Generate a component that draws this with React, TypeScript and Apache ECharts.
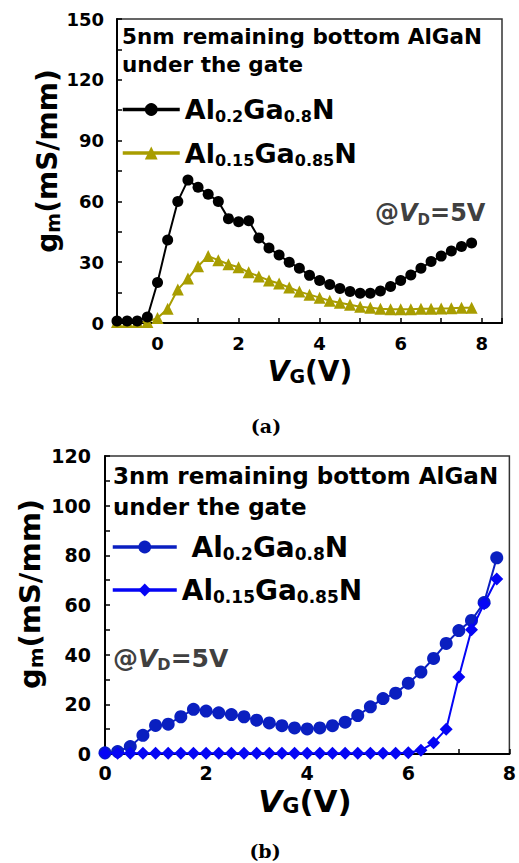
import React, { useEffect, useRef } from 'react';
import * as echarts from 'echarts';

// ---------- data ----------
const VG_A = [-1, -0.75, -0.5, -0.25, 0, 0.25, 0.5, 0.75, 1, 1.25, 1.5, 1.75, 2, 2.25, 2.5, 2.75, 3, 3.25, 3.5, 3.75, 4, 4.25, 4.5, 4.75, 5, 5.25, 5.5, 5.75, 6, 6.25, 6.5, 6.75, 7, 7.25, 7.5, 7.75];
const GM_A_02 = [1, 1, 1, 3, 20, 41, 60, 70.5, 67, 63.5, 60, 51.5, 50, 50.5, 42, 37, 33.5, 30, 27, 23.5, 21, 19, 17, 15.5, 14.7, 14.7, 15.8, 18, 21, 23.7, 27, 30.3, 33, 35.5, 37.7, 39.5];
const GM_A_015 = [0.5, 0.5, 0.5, 0.5, 2.5, 7, 16.5, 22, 28, 33, 31, 29, 27.5, 25, 23, 21, 19.5, 17.5, 15.5, 14, 12.5, 11, 10, 9, 8, 7.5, 7, 6.8, 6.8, 6.8, 7, 7, 7.2, 7.3, 7.5, 7.5];

const VG_B = [0, 0.25, 0.5, 0.75, 1, 1.25, 1.5, 1.75, 2, 2.25, 2.5, 2.75, 3, 3.25, 3.5, 3.75, 4, 4.25, 4.5, 4.75, 5, 5.25, 5.5, 5.75, 6, 6.25, 6.5, 6.75, 7, 7.25, 7.5, 7.75];
const GM_B_02 = [0.5, 1, 3, 7.5, 11.5, 12, 15, 18, 17.3, 16.6, 15.9, 15, 13.6, 12.5, 11.4, 10.5, 10.1, 10.5, 11.4, 12.8, 15.5, 19, 22.3, 24.5, 28.5, 33, 38.5, 44.5, 49.7, 53.8, 61, 79];
const GM_B_015 = [0.3, 0.3, 0.3, 0.3, 0.3, 0.3, 0.3, 0.3, 0.3, 0.3, 0.3, 0.3, 0.3, 0.3, 0.3, 0.3, 0.3, 0.3, 0.3, 0.3, 0.3, 0.3, 0.3, 0.3, 0.5, 1.5, 4.5, 10, 31, 50, 60.5, 70.5];

const NAMES_A = ['Al0.2Ga0.8N, 5nm', 'Al0.15Ga0.85N, 5nm'];
const NAMES_B = ['Al0.2Ga0.8N, 3nm', 'Al0.15Ga0.85N, 3nm'];
const TITLE_A = '5nm remaining bottom AlGaN\nunder the gate';
const TITLE_B = '3nm remaining bottom AlGaN\nunder the gate';
const X_RANGE_A = [-1, 8.5];
const Y_RANGE_A = [0, 150];
const X_RANGE_B = [0, 8];
const Y_RANGE_B = [0, 120];

// ---------- styles ----------
const FONT = 'DejaVu Sans';
const BLACK = '#000000';
const OLIVE = '#A89D00';
const DBLUE = '#0A1FC0';
const BLUE = '#0505F5';
const NOTE = '#404040';

const toRich = (name: string, lead: boolean) => {
  const base = name.split(',')[0];
  const r = base.replace(/([A-Za-z]+)/g, '{m|$1}').replace(/([0-9.]+)/g, '{s|$1}');
  return (lead ? '{m| }' : '') + r;
};

const legendRich = (m: number, s: number, lh: number) => ({
  m: { fontFamily: FONT, fontWeight: 'bold', fontSize: m, lineHeight: lh, color: '#000' },
  s: { fontFamily: FONT, fontWeight: 'bold', fontSize: s, lineHeight: Math.round(s * 0.85), verticalAlign: 'bottom', color: '#000' },
});

const txt = (x: number, y: number, text: string, rich: any, extra: any = {}, rotation = 0) => ({
  type: 'text',
  x,
  y,
  rotation,
  z: 100,
  style: {
    text,
    rich,
    align: extra.align || 'center',
    textAlign: extra.align || 'center',
    verticalAlign: extra.verticalAlign || 'middle',
    textVerticalAlign: extra.verticalAlign || 'middle',
    font: extra.font,
    fill: extra.fill || '#000',
    lineHeight: extra.lineHeight,
  },
});

const axisCommon = (fs: number, margin: number, step: number) => ({
  axisLine: { show: true, onZero: false, lineStyle: { color: '#000', width: 2 } },
  axisTick: { show: true, inside: true, length: 5, lineStyle: { color: '#000', width: 1.5 } },
  splitLine: { show: false },
  axisLabel: {
    fontFamily: FONT,
    fontWeight: 'bold',
    fontSize: fs,
    color: '#000',
    margin,
    formatter: (v: number) => (Math.abs(v % step) < 1e-9 ? String(v) : ''),
  },
});

export default function App() {
  const ref = useRef<HTMLDivElement>(null);
  useEffect(() => {
    if (!ref.current) return;
    const chart = echarts.init(ref.current, null, { renderer: 'svg' });

    const yNameRich = (g: number, s: number) => ({
      g: { fontFamily: FONT, fontWeight: 'bold', fontSize: g, lineHeight: g + 2, fill: '#000', color: '#000' },
      s: { fontFamily: FONT, fontWeight: 'bold', fontSize: s, lineHeight: Math.round(s * 0.8), verticalAlign: 'bottom', fill: '#000', color: '#000' },
    });
    const xNameRich = (g: number, s: number) => ({
      v: { fontFamily: FONT, fontWeight: 'bold', fontStyle: 'italic', fontSize: g, lineHeight: g, fill: '#000', color: '#000' },
      s: { fontFamily: FONT, fontWeight: 'bold', fontSize: s, lineHeight: Math.round(s * 0.75), verticalAlign: 'bottom', fill: '#000', color: '#000' },
      m: { fontFamily: FONT, fontWeight: 'bold', fontSize: g, lineHeight: g, fill: '#000', color: '#000' },
    });
    const noteRich = (g: number, s: number) => ({
      a: { fontFamily: FONT, fontWeight: 'bold', fontSize: g, lineHeight: g + 4, fill: NOTE, color: NOTE },
      v: { fontFamily: FONT, fontWeight: 'bold', fontStyle: 'italic', fontSize: g, lineHeight: g + 4, fill: NOTE, color: NOTE },
      d: { fontFamily: FONT, fontWeight: 'bold', fontSize: s, lineHeight: Math.round(s * 0.8), verticalAlign: 'bottom', fill: NOTE, color: NOTE },
    });

    const option: any = {
      animation: false,
      backgroundColor: '#ffffff',
      grid: [
        { left: 117, top: 19, width: 385, height: 304, show: true, borderColor: '#333', borderWidth: 1.5, containLabel: false },
        { left: 105, top: 456, width: 411, height: 298, show: true, borderColor: '#333', borderWidth: 1.5, containLabel: false },
      ],
      xAxis: [
        { type: 'value', gridIndex: 0, min: X_RANGE_A[0], max: X_RANGE_A[1], interval: 1, ...axisCommon(18, 11, 2) },
        { type: 'value', gridIndex: 1, min: X_RANGE_B[0], max: X_RANGE_B[1], interval: 1, ...axisCommon(19, 9, 2) },
      ],
      yAxis: [
        { type: 'value', gridIndex: 0, min: Y_RANGE_A[0], max: Y_RANGE_A[1], interval: 15, ...axisCommon(18, 13, 30) },
        { type: 'value', gridIndex: 1, min: Y_RANGE_B[0], max: Y_RANGE_B[1], interval: 10, ...axisCommon(19, 14, 20) },
      ],
      legend: [
        {
          data: NAMES_A,
          orient: 'vertical',
          left: 121,
          top: 96,
          padding: 0,
          itemWidth: 57,
          itemHeight: 16,
          itemGap: 15,
          selectedMode: false,
          lineStyle: { width: 3.5 },
          textStyle: { rich: legendRich(27, 16, 30) },
          formatter: (n: string) => toRich(n, false),
        },
        {
          data: NAMES_B,
          orient: 'vertical',
          left: 111,
          top: 533,
          padding: 0,
          itemWidth: 64,
          itemHeight: 16,
          itemGap: 14,
          selectedMode: false,
          lineStyle: { width: 3.5 },
          textStyle: { rich: legendRich(28, 17, 30) },
          formatter: (n: string) => toRich(n, n === NAMES_B[0]),
        },
      ],
      series: [
        {
          name: NAMES_A[1], type: 'line', xAxisIndex: 0, yAxisIndex: 0, z: 2,
          data: VG_A.map((x, i) => [x, GM_A_015[i]]),
          symbol: 'triangle', symbolSize: 12,
          itemStyle: { color: OLIVE }, lineStyle: { color: OLIVE, width: 2 },
        },
        {
          name: NAMES_A[0], type: 'line', xAxisIndex: 0, yAxisIndex: 0, z: 3,
          data: VG_A.map((x, i) => [x, GM_A_02[i]]),
          symbol: 'circle', symbolSize: 11,
          itemStyle: { color: BLACK }, lineStyle: { color: BLACK, width: 2 },
        },
        {
          name: NAMES_B[0], type: 'line', xAxisIndex: 1, yAxisIndex: 1, z: 2,
          data: VG_B.map((x, i) => [x, GM_B_02[i]]),
          symbol: 'circle', symbolSize: 13,
          itemStyle: { color: DBLUE }, lineStyle: { color: DBLUE, width: 2 },
        },
        {
          name: NAMES_B[1], type: 'line', xAxisIndex: 1, yAxisIndex: 1, z: 3,
          data: VG_B.map((x, i) => [x, GM_B_015[i]]),
          symbol: 'diamond', symbolSize: 13,
          itemStyle: { color: BLUE }, lineStyle: { color: BLUE, width: 2 },
        },
      ],
      graphic: [
        txt(122, 22, TITLE_A, undefined, { align: 'left', verticalAlign: 'top', font: `bold 21.5px "${FONT}"`, lineHeight: 28 }),
        txt(113, 460, TITLE_B, undefined, { align: 'left', verticalAlign: 'top', font: `bold 23px "${FONT}"`, lineHeight: 31 }),
        txt(375, 213, '{a|@}{v|V}{d|D}{a|=5V}', noteRich(24, 15), { align: 'left' }),
        txt(113, 658, '{a|@}{v|V}{d|D}{a|=5V}', noteRich(25, 16), { align: 'left' }),
        txt(47, 161, '{g|g}{s|m}{g|(mS/mm)}', yNameRich(28, 19), {}, Math.PI / 2),
        txt(30, 594, '{g|g}{s|m}{g|(mS/mm)}', yNameRich(29, 20), {}, Math.PI / 2),
        txt(310, 371, '{v|V}{s|G}{m|(V)}', xNameRich(28, 19)),
        txt(305, 801, '{v|V}{s|G}{m|(V)}', xNameRich(31, 21)),
        txt(266, 426, '(a)', undefined, { font: 'bold 19px "DejaVu Serif"' }),
        txt(265, 851, '(b)', undefined, { font: 'bold 19px "DejaVu Serif"' }),
      ],
    };
    chart.setOption(option);
    return () => chart.dispose();
  }, []);
  return <div ref={ref} style={{ position: 'absolute', left: 0, top: 0, width: 519, height: 863 }} />;
}
